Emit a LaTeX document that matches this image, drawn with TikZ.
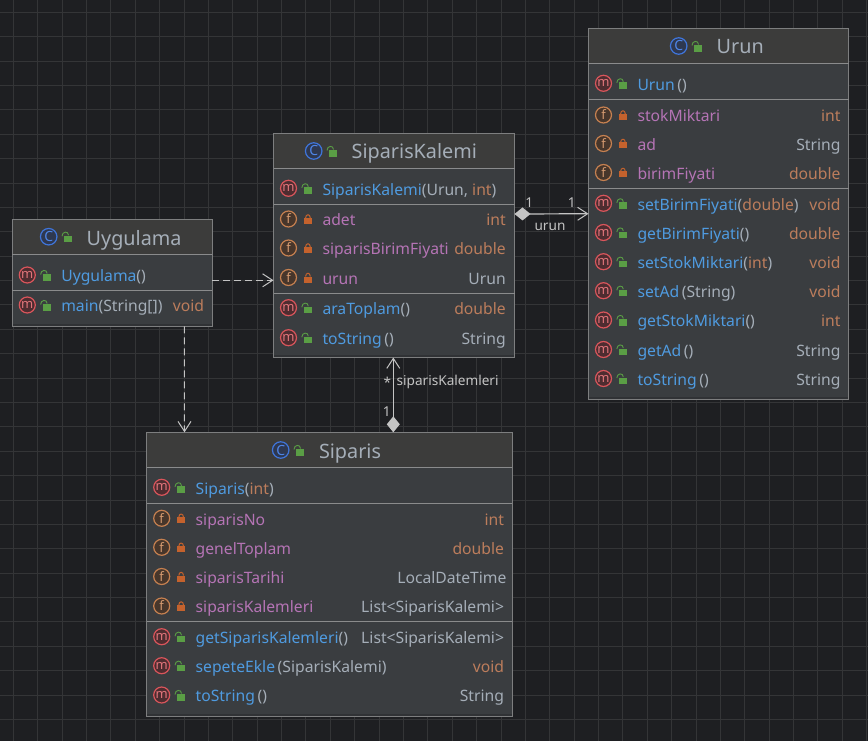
\documentclass[tikz,border=0pt]{standalone}
\usepackage{fontspec}
\setmainfont{Noto Sans}
\usetikzlibrary{arrows.meta}
\definecolor{bgc}{HTML}{1E1F22}
\definecolor{gridc}{HTML}{343537}
\definecolor{bodyc}{HTML}{3A3D40}
\definecolor{headc}{HTML}{3C3C3B}
\definecolor{borderc}{HTML}{7D7E7F}
\definecolor{sepc}{HTML}{8A8B8C}
\definecolor{shadc}{HTML}{303235}
\definecolor{methc}{HTML}{4F9BE0}
\definecolor{fieldc}{HTML}{B574B5}
\definecolor{typec}{HTML}{BC7D5C}
\definecolor{grayc}{HTML}{A5AEB8}
\definecolor{linec}{HTML}{C4C4C4}
\definecolor{lockg}{HTML}{5A9E45}
\definecolor{locko}{HTML}{C4622D}
\newcommand\M[1]{\textcolor{methc}{#1}}
\newcommand\F[1]{\textcolor{fieldc}{#1}}
\newcommand\T[1]{\textcolor{typec}{#1}}
\newcommand\G[1]{\textcolor{grayc}{#1}}
\newcount\autoid
\definecolor{HTMLm}{HTML}{D9555B}\definecolor{HTMLmf}{HTML}{4E2C30}\definecolor{HTMLmt}{HTML}{E0757B}
\definecolor{HTMLf}{HTML}{C58050}\definecolor{HTMLff}{HTML}{47362B}\definecolor{HTMLft}{HTML}{D49A70}
\definecolor{HTMLc}{HTML}{3F75DA}\definecolor{HTMLcf}{HTML}{2E3850}\definecolor{HTMLct}{HTML}{4F86E8}
\tikzset{
  umlbox/.style={draw=borderc,fill=bodyc,line width=1pt,inner sep=0pt,outer sep=0pt,anchor=north west},
  txt/.style={inner sep=0pt,outer sep=0pt,font=\fontsize{15.7}{18}\selectfont},
  ttl/.style={inner sep=0pt,outer sep=0pt,anchor=base west,text=grayc,font=\fontsize{19.8}{24}\selectfont},
  small/.style={inner sep=0pt,outer sep=0pt,text=linec,font=\fontsize{13.6}{16}\selectfont},
  iconbase/.style={circle,line width=1.2pt,minimum size=16pt,inner sep=0pt,font=\fontsize{13}{13}\selectfont},
  iconm/.style={iconbase,draw=HTMLm,fill=HTMLmf,text=HTMLmt},
  iconf/.style={iconbase,draw=HTMLf,fill=HTMLff,text=HTMLft},
  iconc/.style={iconbase,draw=HTMLc,fill=HTMLcf,text=HTMLct,minimum size=16.5pt,font=\fontsize{14}{14}\selectfont},
  dep/.style={draw=linec,line width=1pt,dash pattern=on 7pt off 4pt,-{Straight Barb[length=10pt,width=13pt,line width=1pt]}},
  comp/.style={draw=linec,line width=1.2pt,{Diamond[length=16pt,width=13pt,fill=linec]}-{Straight Barb[length=10pt,width=13pt,line width=1pt]}},
}
\newcommand\openlock[2]{%
  \fill[lockg] (#1-3.7,#2-1) rectangle (#1+4,#2+5.7);
  \draw[lockg,line width=.9pt] (#1-6,#2-.5) .. controls (#1-6,#2-5.5) and (#1+.5,#2-6) .. (#1+.5,#2-1.5);
}
\newcommand\closedlock[2]{%
  \fill[locko] (#1-3.7,#2-1) rectangle (#1+4,#2+5);
  \draw[locko,line width=1pt] (#1-2.2,#2-1) .. controls (#1-2.2,#2-5.3) and (#1+2.5,#2-5.3) .. (#1+2.5,#2-1);
}
\newcommand\umlhead[9]{% name,x,y,w,h,headbottom,iconx,icony,title
  \node[umlbox,minimum width=#4pt,minimum height=#5pt] (#1) at (#2,#3) {};
  \fill[headc] (#2+.5,#3+.5) rectangle (#2+#4-.5,#6);
  \draw[sepc,line width=1pt] (#2,#6) -- (#2+#4,#6);
  \fill[shadc] (#2+.5,#3+#5-2.5) rectangle (#2+#4-.5,#3+#5-.5);
  \node[iconc] (#1icon) at (#7,#8) {C};
  \openlock{#7+19.3}{#8}
}
\newcommand\member[5]{% kind,left,y,content,right
  \global\advance\autoid by 1
  \node[icon#1] (i\the\autoid) at (#2+15,#3) {#1};
  \if m#1\openlock{#2+34.3}{#3}\else\closedlock{#2+34.3}{#3}\fi
  \node[txt,anchor=base west] (t\the\autoid) at (#2+49,#3+6.8) {#4};
  \if\relax\detokenize{#5}\relax\else
    \node[txt,anchor=base east] (r\the\autoid) at (\rightx,#3+6.8) {#5};
  \fi
}
\newcommand\sepline[3]{\draw[sepc,line width=.9pt] (#1,#3) -- (#2,#3);}
\begin{document}
\begin{tikzpicture}[x=1pt,y=-1pt]
\useasboundingbox (0,0) rectangle (868,741);
\fill[bgc] (0,0) rectangle (868,741);
\foreach \k in {0,...,35} \draw[gridc,line width=.8pt] (13.3+24.38*\k,0) -- (13.3+24.38*\k,741);
\foreach \k in {0,...,30} \draw[gridc,line width=.8pt] (0,12.3+24.38*\k) -- (868,12.3+24.38*\k);

% Uygulama
\umlhead{uyg}{12.3}{219.3}{200}{107}{254.7}{48.7}{236.7}{Uygulama}
\node[ttl] (uygtitle) at (86.7,245) {Uygulama};
\def\rightx{204}
\member{m}{12.3}{275}{\M{Uygulama}\G{()}}{}
\sepline{12.3}{212.3}{290.3}
\member{m}{12.3}{305}{\M{main}\G{(String[])}}{\T{void}}

% SiparisKalemi
\umlhead{sk}{273.5}{133.5}{241}{224}{168.5}{313.7}{151}{SiparisKalemi}
\node[ttl] (sktitle) at (351.7,159) {SiparisKalemi};
\def\rightx{505.7}
\member{m}{273.5}{188.3}{\M{SiparisKalemi}\G{(Urun, }\T{int}\G{)}}{}
\sepline{273.5}{514.5}{204.5}
\member{f}{273.5}{219}{\F{adet}}{\T{int}}
\member{f}{273.5}{248}{\F{siparisBirimFiyati}}{\T{double}}
\member{f}{273.5}{277.5}{\F{urun}}{\G{Urun}}
\sepline{273.5}{514.5}{293.5}
\member{m}{273.5}{307.7}{\M{araToplam}\G{()}}{\T{double}}
\member{m}{273.5}{337.7}{\M{toString}\,\G{()}}{\G{String}}

% Urun
\umlhead{urun}{588.5}{28.5}{260}{370.5}{63.7}{678.7}{46}{Urun}
\node[ttl] (uruntitle) at (716.7,54) {Urun};
\def\rightx{840.5}
\member{m}{588.5}{83.3}{\M{Urun}\,\G{()}}{}
\sepline{588.5}{848.5}{99.3}
\member{f}{588.5}{115}{\F{stokMiktari}}{\T{int}}
\member{f}{588.5}{143.5}{\F{ad}}{\G{String}}
\member{f}{588.5}{172.5}{\F{birimFiyati}}{\T{double}}
\sepline{588.5}{848.5}{188.3}
\member{m}{588.5}{203.3}{\M{setBirimFiyati}\G{(}\T{double}\G{)}}{\T{void}}
\member{m}{588.5}{232.5}{\M{getBirimFiyati}\G{()}}{\T{double}}
\member{m}{588.5}{261.7}{\M{setStokMiktari}\G{(}\T{int}\G{)}}{\T{void}}
\member{m}{588.5}{290.7}{\M{setAd}\,\G{(String)}}{\T{void}}
\member{m}{588.5}{320}{\M{getStokMiktari}\G{()}}{\T{int}}
\member{m}{588.5}{349.5}{\M{getAd}\,\G{()}}{\G{String}}
\member{m}{588.5}{378.5}{\M{toString}\,\G{()}}{\G{String}}

% Siparis
\umlhead{sip}{146.7}{432.3}{365.6}{283.7}{467.7}{280.7}{450}{Siparis}
\node[ttl] (siptitle) at (319,458.5) {Siparis};
\def\rightx{504}
\member{m}{146.7}{487.3}{\M{Siparis}\G{(}\T{int}\G{)}}{}
\sepline{146.7}{512.3}{503.3}
\member{f}{146.7}{518.3}{\F{siparisNo}}{\T{int}}
\member{f}{146.7}{547.3}{\F{genelToplam}}{\T{double}}
\member{f}{146.7}{576.5}{\F{siparisTarihi}}{\G{LocalDateTime\hspace*{-2.5pt}}}
\member{f}{146.7}{606}{\F{siparisKalemleri}}{\G{List<SiparisKalemi>}}
\sepline{146.7}{512.3}{621.3}
\member{m}{146.7}{636.7}{\M{getSiparisKalemleri}\G{()}}{\G{List<SiparisKalemi>}}
\member{m}{146.7}{665.7}{\M{sepeteEkle}\,\G{(SiparisKalemi)}}{\T{void}}
\member{m}{146.7}{695}{\M{toString}\,\G{()}}{\G{String}}

% connectors
\path[dep] ([yshift=-7.5pt]uyg.east) -- ([yshift=-34.8pt]sk.west);
\path[dep] ([xshift=72pt]uyg.south) -- ([xshift=-145pt]sip.north);
\path[comp] ([yshift=31.5pt]sk.east) -- (urun.west);
\path[comp] ([xshift=63.8pt]sip.north) -- ([xshift=-.7pt]sk.south);

% connector labels
\node[small] (l1) at (529.3,203) {1};
\node[small] (l2) at (571.7,203) {1};
\node[small] (l3) at (550,227) {urun};
\node[small] (l4) at (387.3,382) {*};
\node[small,anchor=west] (l5) at (396.7,382) {siparisKalemleri};
\node[small] (l6) at (386.7,412) {1};
\end{tikzpicture}
\end{document}
